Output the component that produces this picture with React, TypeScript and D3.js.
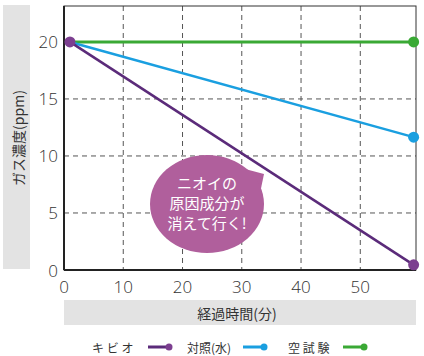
import React from "react";
import * as d3 from "d3";

const seriesNames = ["キ ビ オ", "対照(水)", "空 試 験"];
const seriesColors = ["#5b2b7a", "#1a9fe0", "#3aa935"];
const markerColors = ["#7c3f90", "#1a9fe0", "#3aa935"];
const times = [1, 59];
const kibioValues = [20, 0.45];
const controlValues = [20, 11.65];
const blankValues = [20, 20];
const xTicks = [0, 10, 20, 30, 40, 50];
const yTicks = [0, 5, 10, 15, 20];
const bubbleLines = ["ニオイの", "原因成分が", "消えて行く!"];

const W = 424, H = 356;
const L = 64, R = 416, T = 6, B = 270;
const JP = "'Noto Sans CJK JP', 'Noto Sans', sans-serif";

export default function App() {
  const x = d3.scaleLinear().domain([0, 59.4]).range([L, R]);
  const y = d3.scaleLinear().domain([0, 23.15]).range([B, T]);
  const all = [kibioValues, controlValues, blankValues];
  const line = d3.line<number>().x((_, i) => x(times[i])).y((v) => y(v));
  const bx = 207, by = 204;
  return (
    <svg width={W} height={H} style={{ position: "absolute", left: 0, top: 0, background: "#fff" }}>
      {/* y label box */}
      <rect x={3} y={5} width={27} height={264} fill="#e3e3e3" />
      <text transform={`translate(18,138) rotate(-90)`} textAnchor="middle" dominantBaseline="central"
        fontFamily={JP} fontSize={14} fill="#333">ガス濃度(ppm)</text>
      {/* x label box */}
      <rect x={L} y={300} width={R - L} height={25} fill="#e3e3e3" />
      <text x={237} y={313} textAnchor="middle" dominantBaseline="central" fontFamily={JP} fontSize={14} fill="#333">経過時間(分)</text>
      {/* grid */}
      {xTicks.filter((t) => t > 0).map((t) => (
        <line key={"gx" + t} x1={x(t)} x2={x(t)} y1={T} y2={B} stroke="#555" strokeWidth={1} strokeDasharray="5,4" />
      ))}
      {yTicks.filter((t) => t > 0).map((t) => (
        <line key={"gy" + t} x1={L} x2={R} y1={y(t)} y2={y(t)} stroke="#555" strokeWidth={1} strokeDasharray="5,4" />
      ))}
      {/* frame */}
      <rect x={L} y={T} width={R - L} height={B - T} fill="none" stroke="#333" strokeWidth={1} />
      <line x1={L} x2={L} y1={T} y2={B} stroke="#222" strokeWidth={2} />
      <line x1={L} x2={R} y1={B} y2={B} stroke="#222" strokeWidth={2} />
      {/* ticks */}
      {yTicks.map((t) => (
        <text key={"ty" + t} x={58} y={y(t)} textAnchor="end" dominantBaseline="central" fontFamily="'Open Sans', sans-serif" fontWeight={300} fontSize={17} fill="#333">{t}</text>
      ))}
      {xTicks.map((t) => (
        <text key={"tx" + t} x={x(t)} y={286} textAnchor="middle" dominantBaseline="central" fontFamily="'Open Sans', sans-serif" fontWeight={300} fontSize={17} fill="#333">{t}</text>
      ))}
      {/* bubble */}
      <path d={`M ${bx + 38} ${by - 35} L 264 ${by - 30} L ${bx + 52} ${by - 6} Z`} fill="#b05f9c" />
      <ellipse cx={bx} cy={by} rx={57} ry={49} fill="#b05f9c" />
      {bubbleLines.map((s, i) => (
        <text key={s} x={bx} y={182 + i * 20} textAnchor="middle" dominantBaseline="central" fontFamily={JP} fontSize={15} fill="#fff">{s}</text>
      ))}
      {/* series (draw green, blue, purple) */}
      {[2, 1, 0].map((k) => (
        <g key={"s" + k}>
          <path d={line(all[k]) || ""} fill="none" stroke={seriesColors[k]} strokeWidth={k === 2 ? 3 : 2.5} />
          {all[k].map((v, i) =>
            (k === 0 || i > 0) ? <circle key={i} cx={x(times[i])} cy={y(v)} r={5.5} fill={markerColors[k]} /> : null
          )}
        </g>
      ))}
      {/* legend */}
      {[
        { x0: 92, lx: 148 },
        { x0: 187, lx: 243 },
        { x0: 288, lx: 343 },
      ].map((p, k) => (
        <g key={"lg" + k}>
          <text x={p.x0} y={347} dominantBaseline="central" fontFamily={JP} fontSize={12} fill="#333">{seriesNames[k]}</text>
          <line x1={p.lx} x2={p.lx + 20} y1={347} y2={347} stroke={seriesColors[k]} strokeWidth={3} />
          <circle cx={p.lx + 21} cy={347} r={3.5} fill={markerColors[k]} />
        </g>
      ))}
    </svg>
  );
}
